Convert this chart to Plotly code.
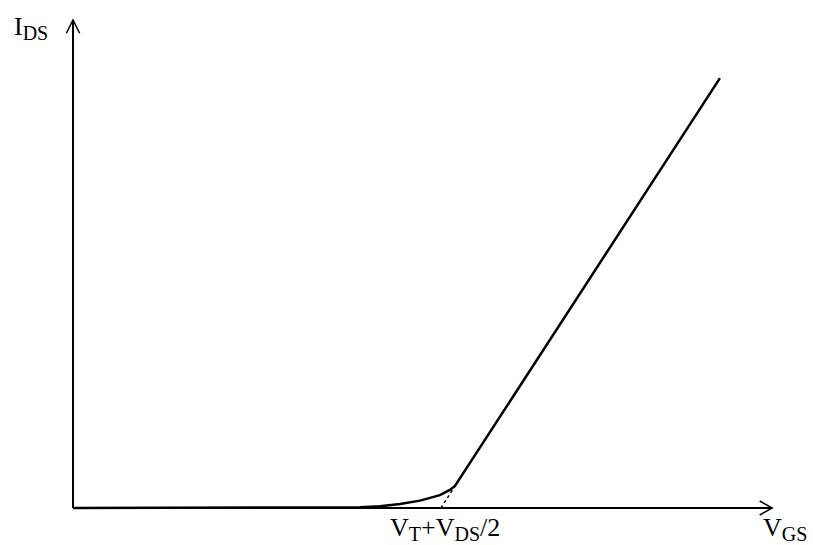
import plotly.graph_objects as go

# Transfer characteristic I_DS(V_GS): subthreshold tail, then linear region
vgs = [0.0, 0.617, 0.726, 0.780, 0.834, 0.889, 0.943, 0.970, 0.997, 1.024, 1.038, 1.758]
ids = [0.0, 0.0, 0.001, 0.002, 0.005, 0.011, 0.020, 0.027, 0.035, 0.049, 0.060, 1.168]

# Extrapolation of the linear part down to the V_GS axis
extrap_vgs = [1.0, 1.038]
extrap_ids = [0.0, 0.060]

# Axis extents (data units)
x_axis_end = 1.90
y_axis_end = 1.326

SUB = "<sub><span style='font-size:20px'>{}</span></sub>"
tick_pos = 1.0
tick_label = "V" + SUB.format("T") + "+V" + SUB.format("DS") + "/2"
x_label = "V" + SUB.format("GS")
y_label = "I" + SUB.format("DS")

FONT = "Liberation Serif, Times New Roman, serif"

fig = go.Figure()

fig.add_trace(go.Scatter(
    x=extrap_vgs, y=extrap_ids, mode="lines",
    line=dict(color="black", width=1.5, dash="dot"),
    hoverinfo="skip", showlegend=False,
))
fig.add_trace(go.Scatter(
    x=vgs, y=ids, mode="lines",
    line=dict(color="black", width=2.5),
    showlegend=False,
))

# Axes with open chevron arrowheads
ax = dict(type="line", xref="x", yref="y", line=dict(color="black", width=2))
fig.add_shape(**ax, x0=0, y0=0, x1=x_axis_end, y1=0)
fig.add_shape(**ax, x0=0, y0=0, x1=0, y1=y_axis_end)

head = dict(type="path", xref="x", yref="y", line=dict(color="black", width=1.5))
hx, hy = 0.034, 0.019
fig.add_shape(**head, path=f"M {x_axis_end-hx},{hy} L {x_axis_end},0 L {x_axis_end-hx},{-hy}")
vx, vy = 0.018, 0.036
fig.add_shape(**head, path=f"M {-vx},{y_axis_end-vy} L 0,{y_axis_end} L {vx},{y_axis_end-vy}")

txt = dict(showarrow=False, font=dict(family=FONT, size=26, color="black"),
           xref="x", yref="y", yanchor="middle")
fig.add_annotation(**txt, x=tick_pos + 0.012, y=-0.057, text=tick_label)
fig.add_annotation(**txt, x=1.935, y=-0.057, text=x_label)
fig.add_annotation(**txt, x=-0.114, y=1.305, text=y_label)

fig.update_layout(
    width=813, height=545,
    margin=dict(l=0, r=0, t=0, b=0),
    paper_bgcolor="white", plot_bgcolor="white",
    xaxis=dict(range=[-0.1984, 2.0109], visible=False, fixedrange=True),
    yaxis=dict(range=[-0.1005, 1.3804], visible=False, fixedrange=True),
    showlegend=False,
)

fig.write_html("out.html", config={"displayModeBar": False})
